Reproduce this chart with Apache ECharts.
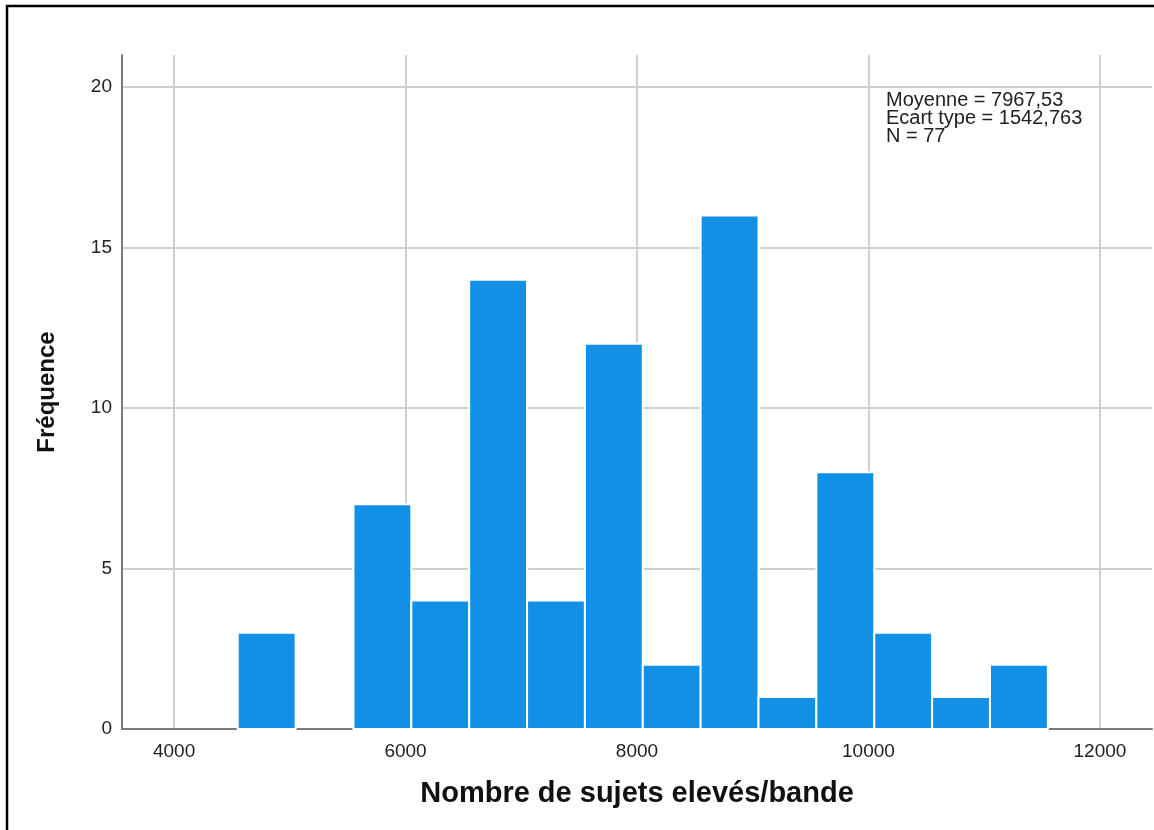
<!DOCTYPE html>
<html>
<head>
<meta charset="utf-8">
<script src="https://cdn.jsdelivr.net/npm/echarts@6/dist/echarts.min.js"></script>
<style>
  html, body { margin: 0; padding: 0; background: #fff; }
  #chart { width: 1154px; height: 830px; }
</style>
</head>
<body>
<div id="chart"></div>
<script>
// Histogram of "Nombre de sujets elevés/bande" (bins of 500)
const binStarts = [4550, 5050, 5550, 6050, 6550, 7050, 7550, 8050, 8550, 9050, 9550, 10050, 10550, 11050];
const counts    = [3, 0, 7, 4, 14, 4, 12, 2, 16, 1, 8, 3, 1, 2];
const binWidth = 500;

const xTicks = [4000, 6000, 8000, 10000, 12000];
const yTicks = [0, 5, 10, 15, 20];

const statLines = ['Moyenne = 7967,53', 'Ecart type = 1542,763', 'N = 77'];

const FONT = '"Liberation Sans", Arial, sans-serif';

const chart = echarts.init(document.getElementById('chart'), null, { renderer: 'canvas' });

const bins = binStarts.map((s, i) => [s, s + binWidth, counts[i]]);

chart.setOption({
  backgroundColor: '#ffffff',
  animation: false,
  grid: { left: 122, top: 55, right: 2, bottom: 101 },
  xAxis: {
    type: 'value',
    min: 3550,
    max: 12450,
    name: 'Nombre de sujets elevés/bande',
    nameLocation: 'middle',
    nameGap: 50,
    nameTextStyle: { fontFamily: FONT, fontSize: 29, fontWeight: 'bold', color: '#111' },
    axisLine: { show: true, lineStyle: { color: '#7a7a7a', width: 2 } },
    axisTick: { show: false, customValues: xTicks },
    axisLabel: {
      customValues: xTicks,
      formatter: v => String(v),
      fontFamily: FONT, fontSize: 19, color: '#222', margin: 13
    },
    splitLine: { show: true, lineStyle: { color: '#cfcfcf', width: 2 } }
  },
  yAxis: {
    type: 'value',
    min: 0,
    max: 21,
    interval: 5,
    name: 'Fréquence',
    nameLocation: 'middle',
    nameGap: 63,
    nameTextStyle: { fontFamily: FONT, fontSize: 24, fontWeight: 'bold', color: '#111' },
    axisLine: { show: true, lineStyle: { color: '#7a7a7a', width: 2 } },
    axisTick: { show: false, customValues: yTicks },
    axisLabel: {
      customValues: yTicks,
      formatter: v => String(v),
      fontFamily: FONT, fontSize: 19, color: '#222', margin: 10
    },
    splitLine: { show: true, lineStyle: { color: '#cfcfcf', width: 2 } }
  },
  series: [{
    type: 'custom',
    data: bins,
    encode: { x: [0, 1], y: 2 },
    renderItem: function (params, api) {
      const v = api.value(2);
      if (!v) return null;
      const p0 = api.coord([api.value(0), v]);
      const p1 = api.coord([api.value(1), 0]);
      return {
        type: 'rect',
        shape: { x: p0[0], y: p0[1], width: p1[0] - p0[0], height: p1[1] - p0[1] },
        style: { fill: '#1190e6', stroke: '#ffffff', lineWidth: 2 }
      };
    }
  }],
  graphic: [
    {
      type: 'text',
      left: 886,
      top: 90,
      style: {
        text: statLines.join('\n'),
        fontFamily: FONT,
        fontSize: 20,
        lineHeight: 18,
        fill: '#222'
      }
    },
    {
      type: 'line',
      shape: { x1: 6, y1: 6, x2: 1154, y2: 6 },
      style: { stroke: '#000', lineWidth: 2.5 }
    },
    {
      type: 'line',
      shape: { x1: 7, y1: 5, x2: 7, y2: 830 },
      style: { stroke: '#000', lineWidth: 2.5 }
    }
  ]
});
</script>
</body>
</html>
